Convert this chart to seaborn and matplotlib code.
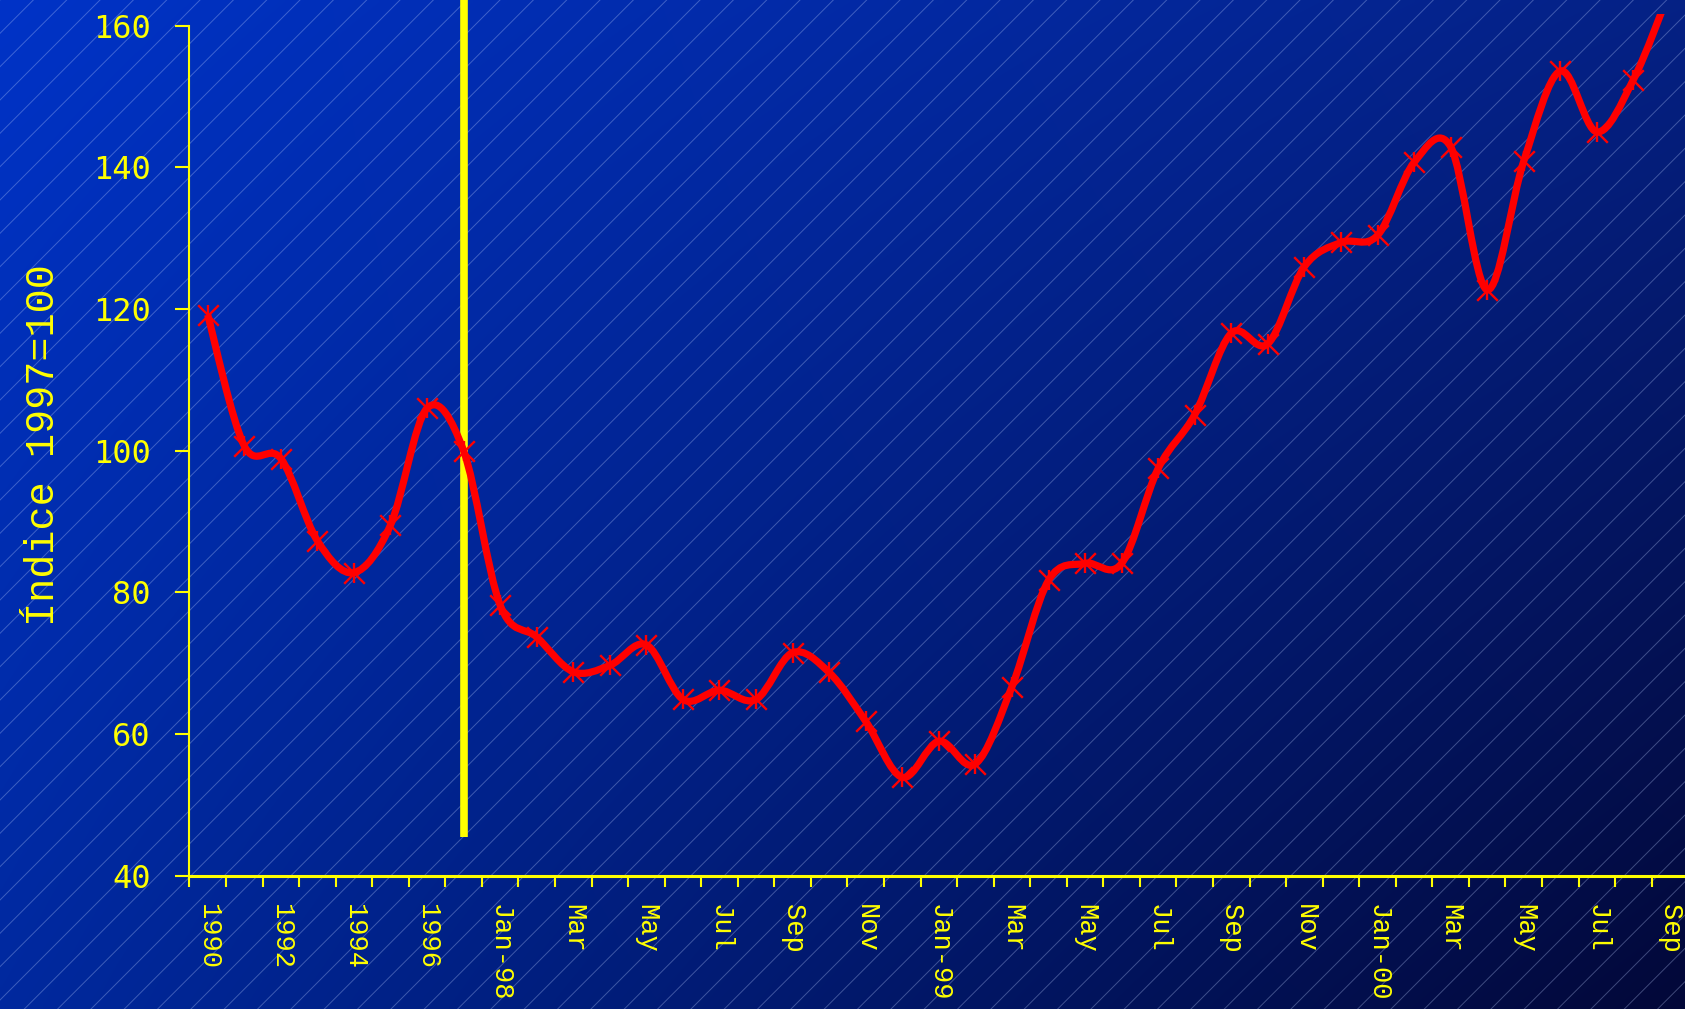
import numpy as np
import pandas as pd
import seaborn as sns
import matplotlib.pyplot as plt
from matplotlib.path import Path
from matplotlib.patches import PathPatch, Rectangle

# categories: yearly 1990-1997, then monthly Jan-98 .. Sep-00
periods = ["1990", "1991", "1992", "1993", "1994", "1995", "1996", "1997",
           "Jan-98", "Feb", "Mar", "Apr", "May", "Jun", "Jul", "Aug", "Sep", "Oct", "Nov", "Dec",
           "Jan-99", "Feb", "Mar", "Apr", "May", "Jun", "Jul", "Aug", "Sep", "Oct", "Nov", "Dec",
           "Jan-00", "Feb", "Mar", "Apr", "May", "Jun", "Jul", "Aug", "Sep"]
index_values = [119.2, 100.7, 98.9, 87.3, 82.8, 89.5, 106.0, 100.0,
                78.2, 73.7, 68.8, 69.7, 72.6, 64.9, 66.2, 64.9, 71.5, 68.7, 61.8, 53.9,
                59.0, 55.8, 66.7, 81.7, 84.1, 84.1, 97.5, 105.1, 116.6, 115.1, 126.0, 129.4,
                130.4, 140.7, 142.9, 122.7, 140.9, 153.6, 145.0, 152.4, 165.0]
y_ticks = [40, 60, 80, 100, 120, 140, 160]
base_period = "1997"
base_line_bottom = 45.5

YELLOW = "#ffff00"
RED = "#ff0000"

df = pd.DataFrame({"pos": np.arange(len(periods)), "period": periods, "value": index_values})

fig = plt.figure(figsize=(16.85, 10.09), dpi=100)

# background: diagonal blue gradient with thin hatch lines
bg = fig.add_axes([0, 0, 1, 1], zorder=0)
bg.set_axis_off()
corners = np.array([[[0.00, 0.20, 0.78], [0.02, 0.13, 0.52]],
                    [[0.00, 0.16, 0.62], [0.01, 0.03, 0.22]]])
u = np.linspace(0, 1, 400)[None, :, None]
v = np.linspace(0, 1, 240)[:, None, None]
grad = ((1 - v) * ((1 - u) * corners[0, 0] + u * corners[0, 1])
        + v * ((1 - u) * corners[1, 0] + u * corners[1, 1]))
bg.imshow(grad, extent=[0, 1, 0, 1], aspect="auto", interpolation="bilinear")
plt.rcParams["hatch.linewidth"] = 0.7
bg.add_patch(Rectangle((0, 0), 1, 1, facecolor="none", hatch="/",
                       edgecolor=(0.75, 0.82, 1.0, 0.32), linewidth=0))
bg.set_xlim(0, 1)
bg.set_ylim(0, 1)

ax = fig.add_axes([0.1124, 0.132, 0.8876, 0.8538], zorder=1)
ax.set_facecolor("none")

# smooth (bezier) line through the points, like Excel's smoothed line
pts = df[["pos", "value"]].to_numpy(dtype=float)
verts = [pts[0]]
codes = [Path.MOVETO]
n = len(pts)
for i in range(n - 1):
    p0 = pts[max(i - 1, 0)]
    p1 = pts[i]
    p2 = pts[i + 1]
    p3 = pts[min(i + 2, n - 1)]
    verts += [p1 + (p2 - p0) / 6, p2 - (p3 - p1) / 6, p2]
    codes += [Path.CURVE4] * 3
ax.add_patch(PathPatch(Path(verts, codes), facecolor="none", edgecolor=RED,
                       linewidth=5.2, capstyle="butt", joinstyle="round", zorder=3))

# asterisk markers: an x plus a vertical bar
sns.scatterplot(data=df, x="pos", y="value", marker="x", s=220, color=RED,
                linewidth=1.7, ax=ax, zorder=4, legend=False)
sns.scatterplot(data=df, x="pos", y="value", marker="|", s=220, color=RED,
                linewidth=1.7, ax=ax, zorder=4, legend=False)

# base-year marker line
base_pos = periods.index(base_period)
ax.vlines(base_pos, base_line_bottom, 200, color=YELLOW, linewidth=5.5,
          clip_on=False, zorder=2)

ax.set_xlim(-0.5, 40.41)
ax.set_ylim(40, 161.6)

for side in ["top", "right"]:
    ax.spines[side].set_visible(False)
ax.spines["left"].set_color(YELLOW)
ax.spines["left"].set_linewidth(1.5)
ax.spines["left"].set_bounds(40, 160)
ax.spines["bottom"].set_color(YELLOW)
ax.spines["bottom"].set_linewidth(2.2)

ax.set_yticks(y_ticks)
ax.set_yticklabels([str(t) for t in y_ticks], family="DejaVu Sans Mono")
ax.tick_params(axis="y", direction="out", length=10, width=1.5, color=YELLOW,
               labelcolor=YELLOW, labelsize=23, pad=18)

ax.set_xticks(np.arange(-0.5, len(periods) - 1, 1))
ax.set_xticklabels([])
ax.tick_params(axis="x", which="major", direction="out", length=8, width=1.5, color=YELLOW)
label_pos = list(range(0, len(periods), 2))
ax.set_xticks(label_pos, minor=True)
ax.set_xticklabels([periods[i] for i in label_pos], minor=True, rotation=270,
                   family="Liberation Mono", ha="center", va="top")
ax.tick_params(axis="x", which="minor", length=0, labelcolor=YELLOW, labelsize=19.5, pad=20)

ax.set_xlabel("")
ax.set_ylabel("Índice 1997=100", family="Liberation Mono", fontsize=29,
              color=YELLOW, labelpad=22)

fig.savefig("out.png", dpi=100)
